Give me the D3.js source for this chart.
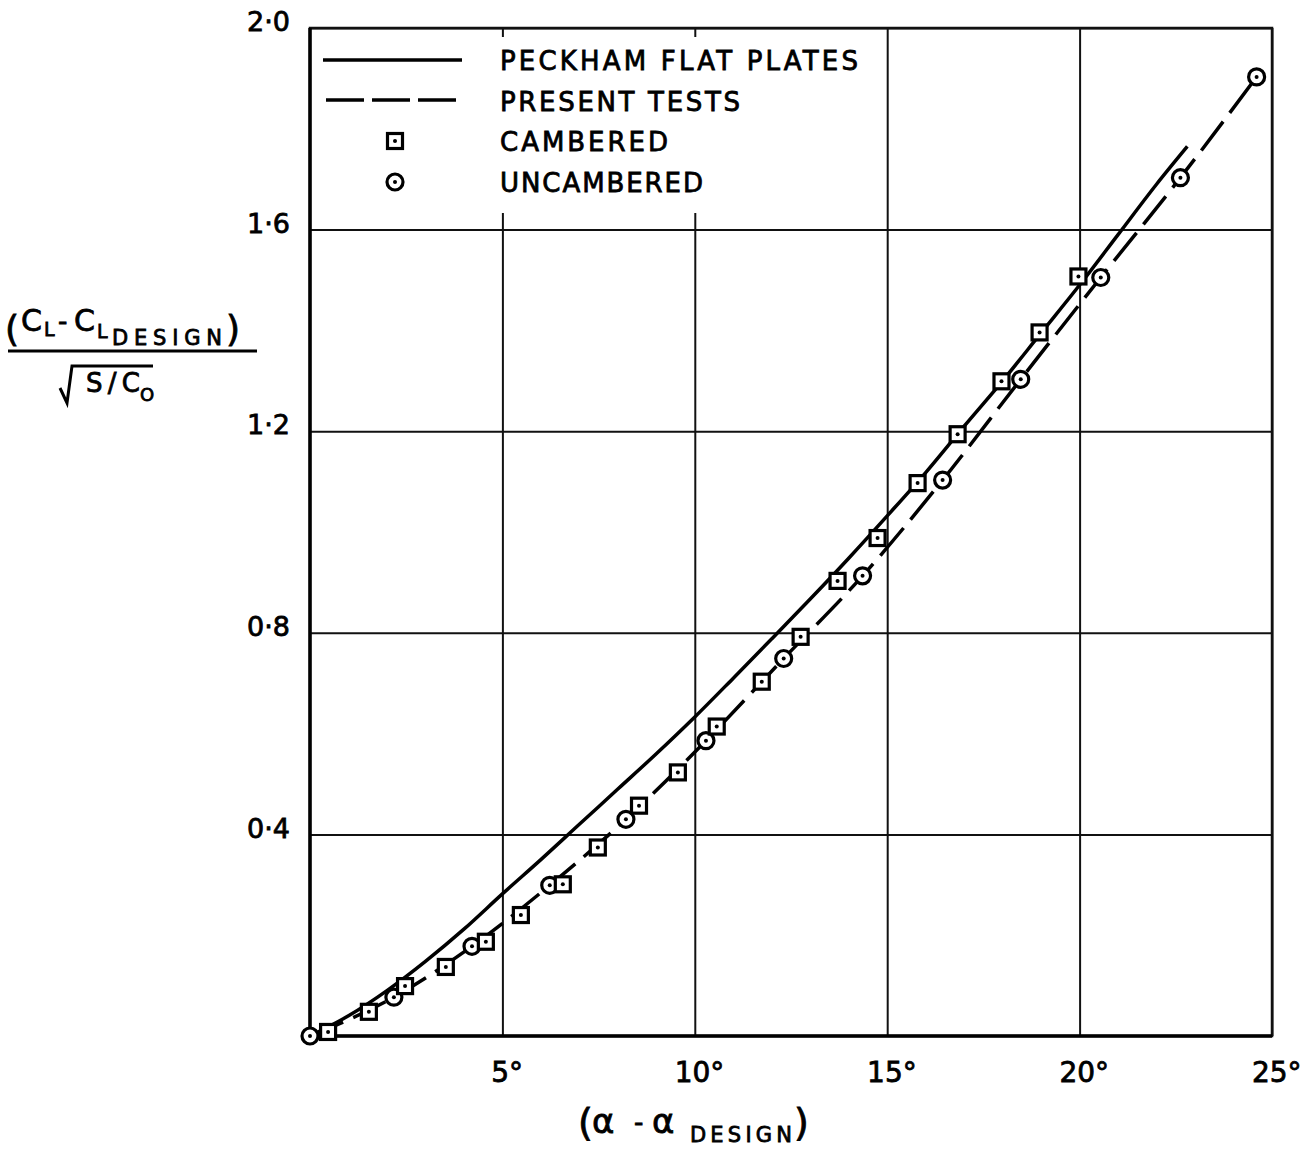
<!DOCTYPE html>
<html>
<head>
<meta charset="utf-8">
<script src="https://cdn.jsdelivr.net/npm/d3@7"></script>
<style>
  body { margin: 0; background: #fff; }
  svg text { font-family: "DejaVu Sans", sans-serif; fill: #000; stroke: #000; stroke-width: 0.8px; }
</style>
</head>
<body>
<div id="chart"></div>
<script>
// Peckham flat plates (solid curve)
var peckhamDeg = [0, 1, 2, 3, 4, 5, 6, 7, 8, 9, 10, 11, 12, 13, 14, 15, 16, 17, 18, 19, 20, 21, 22, 22.8];
var peckhamVal = [0, 0.04, 0.09, 0.148, 0.212, 0.282, 0.35, 0.42, 0.49, 0.56, 0.633, 0.71, 0.788, 0.867,
                  0.948, 1.032, 1.118, 1.21, 1.30, 1.395, 1.49, 1.59, 1.69, 1.765];

// present tests (dashed curve)
var presentDeg = [0, 2.18, 4.21, 6.23, 8.21, 10.29, 12.31, 14.36, 16.44, 18.47, 20.55, 22.62, 24.6];
var presentVal = [0, 0.077, 0.178, 0.299, 0.43, 0.586, 0.749, 0.913, 1.103, 1.303, 1.505, 1.703, 1.903];

// cambered (squares)
var camberedDeg = [0.47, 1.53, 2.47, 3.53, 4.57, 5.48, 6.57, 7.48, 8.55, 9.56, 10.57, 11.74, 12.75,
                   13.71, 14.75, 15.79, 16.83, 17.97, 18.96, 19.97];
var camberedVal = [0.008, 0.048, 0.099, 0.137, 0.187, 0.24, 0.301, 0.374, 0.457, 0.523, 0.614, 0.703,
                   0.792, 0.903, 0.988, 1.097, 1.194, 1.299, 1.396, 1.507];

// uncambered (circles)
var uncamberedDeg = [0, 2.18, 4.21, 6.23, 8.21, 10.29, 12.31, 14.36, 16.44, 18.47, 20.55, 22.62, 24.6];
var uncamberedVal = [0, 0.077, 0.178, 0.299, 0.43, 0.586, 0.749, 0.913, 1.103, 1.303, 1.505, 1.703, 1.903];

var xTicks = [5, 10, 15, 20, 25];
var yTicks = [0.4, 0.8, 1.2, 1.6, 2.0];

var legendItems = ["PECKHAM FLAT PLATES", "PRESENT TESTS", "CAMBERED", "UNCAMBERED"];
var legendWidths = [358, 240, 168, 203];

var W = 1315, H = 1149;
var pL = 310, pR = 1272, pT = 28, pB = 1036;

var svg = d3.select("#chart").append("svg")
    .attr("width", W)
    .attr("height", H);

var x = d3.scaleLinear().domain([0, 25]).range([pL, pR]);
var y = d3.scaleLinear().domain([0, 2]).range([pB, pT]);

// grid + tick labels
var yAxis = svg.append("g")
    .attr("transform", "translate(" + pL + ",0)")
    .call(d3.axisLeft(y).tickValues(yTicks).tickSize(-(pR - pL)).tickPadding(20)
      .tickFormat(function(d) { return d.toFixed(1).replace(".", "\u00B7"); }));
yAxis.select(".domain").remove();
yAxis.selectAll("line").attr("stroke", "#111").attr("stroke-width", 2);
yAxis.selectAll("text").attr("font-size", 27).attr("dy", "0.1em")
    .style("font-family", "DejaVu Sans, sans-serif");

var xAxis = svg.append("g")
    .attr("transform", "translate(0," + pB + ")")
    .call(d3.axisBottom(x).tickValues(xTicks).tickSize(-(pB - pT)).tickPadding(26)
      .tickFormat(function(d) { return d + "\u00B0"; }));
xAxis.select(".domain").remove();
xAxis.selectAll("line").attr("stroke", "#111").attr("stroke-width", 2);
xAxis.selectAll("text").attr("font-size", 28).attr("dx", "0.15em")
    .style("font-family", "DejaVu Sans, sans-serif");

// frame
svg.append("rect")
    .attr("x", pL).attr("y", pT)
    .attr("width", pR - pL).attr("height", pB - pT)
    .attr("fill", "none").attr("stroke", "#111").attr("stroke-width", 2.5);
svg.append("line").attr("x1", pL).attr("x2", pL).attr("y1", pT).attr("y2", pB + 1)
    .attr("stroke", "#000").attr("stroke-width", 3.5);
svg.append("line").attr("x1", pL).attr("x2", pR).attr("y1", pB).attr("y2", pB)
    .attr("stroke", "#000").attr("stroke-width", 3.5);

// legend area blanks the grid
svg.append("rect")
    .attr("x", pL + 2).attr("y", pT + 9)
    .attr("width", 560).attr("height", 176)
    .attr("fill", "#fff");

// curves
var line = d3.line()
    .x(function(d) { return x(d[0]); })
    .y(function(d) { return y(d[1]); })
    .curve(d3.curveMonotoneX);

svg.append("path")
    .datum(d3.zip(peckhamDeg, peckhamVal))
    .attr("d", line)
    .attr("fill", "none").attr("stroke", "#000").attr("stroke-width", 3.5);

svg.append("path")
    .datum(d3.zip(presentDeg, presentVal))
    .attr("d", line)
    .attr("fill", "none").attr("stroke", "#000").attr("stroke-width", 3.5)
    .attr("stroke-dasharray", "36,11");

// markers
function square(g, cx, cy) {
  g.append("rect")
      .attr("x", cx - 7.5).attr("y", cy - 7.5)
      .attr("width", 15).attr("height", 15)
      .attr("fill", "#fff").attr("stroke", "#000").attr("stroke-width", 3.2);
  g.append("circle").attr("cx", cx).attr("cy", cy).attr("r", 2).attr("fill", "#000");
}
function ring(g, cx, cy) {
  g.append("circle").attr("cx", cx).attr("cy", cy).attr("r", 8)
      .attr("fill", "#fff").attr("stroke", "#000").attr("stroke-width", 3.2);
  g.append("circle").attr("cx", cx).attr("cy", cy).attr("r", 2).attr("fill", "#000");
}

var marks = svg.append("g");
d3.zip(uncamberedDeg, uncamberedVal).forEach(function(d) { ring(marks, x(d[0]), y(d[1])); });
d3.zip(camberedDeg, camberedVal).forEach(function(d) { square(marks, x(d[0]), y(d[1])); });

// legend
var lg = svg.append("g");
lg.append("line").attr("x1", 323).attr("x2", 462).attr("y1", 60).attr("y2", 60)
    .attr("stroke", "#000").attr("stroke-width", 3.5);
lg.append("line").attr("x1", 326).attr("x2", 462).attr("y1", 100).attr("y2", 100)
    .attr("stroke", "#000").attr("stroke-width", 3.5).attr("stroke-dasharray", "38,8");
square(lg, 395, 141);
ring(lg, 395, 182);
lg.selectAll("text.leg")
    .data(legendItems)
    .enter().append("text")
    .attr("class", "leg")
    .attr("x", 500)
    .attr("y", function(d, i) { return 70 + i * 40.5; })
    .attr("font-size", 26)
    .attr("textLength", function(d, i) { return legendWidths[i]; })
    .attr("lengthAdjust", "spacing")
    .text(function(d) { return d; });

// y title
var yt = svg.append("g");
yt.append("text").attr("x", 5).attr("y", 341).attr("font-size", 36).text("(");
yt.append("text").attr("x", 21).attr("y", 331).attr("font-size", 30).text("C");
yt.append("text").attr("x", 44).attr("y", 336).attr("font-size", 19).text("L");
yt.append("text").attr("x", 58).attr("y", 330).attr("font-size", 26).text("-");
yt.append("text").attr("x", 74).attr("y", 331).attr("font-size", 30).text("C");
yt.append("text").attr("x", 97).attr("y", 338).attr("font-size", 19).text("L");
yt.append("text").attr("x", 112).attr("y", 345).attr("font-size", 21)
    .attr("textLength", 110).attr("lengthAdjust", "spacing").text("DESIGN");
yt.append("text").attr("x", 226).attr("y", 341).attr("font-size", 36).text(")");
yt.append("line").attr("x1", 8).attr("x2", 257).attr("y1", 351).attr("y2", 351)
    .attr("stroke", "#000").attr("stroke-width", 3);
yt.append("path")
    .attr("d", "M60,388 L67,403 L72,366 L153,366")
    .attr("fill", "none").attr("stroke", "#000").attr("stroke-width", 3);
yt.append("text").attr("x", 86).attr("y", 392).attr("font-size", 26)
    .attr("textLength", 54).attr("lengthAdjust", "spacing").text("S/C");
yt.append("text").attr("x", 140).attr("y", 401).attr("font-size", 18).text("O");

// x title
var xt = svg.append("g");
xt.append("text").attr("x", 578).attr("y", 1135).attr("font-size", 38).text("(");
xt.append("text").attr("x", 592).attr("y", 1133).attr("font-size", 34).text("\u03B1");
xt.append("text").attr("x", 634).attr("y", 1131).attr("font-size", 26).text("-");
xt.append("text").attr("x", 652).attr("y", 1133).attr("font-size", 34).text("\u03B1");
xt.append("text").attr("x", 690).attr("y", 1142).attr("font-size", 21)
    .attr("textLength", 102).attr("lengthAdjust", "spacing").text("DESIGN");
xt.append("text").attr("x", 794).attr("y", 1135).attr("font-size", 38).text(")");
</script>
</body>
</html>
